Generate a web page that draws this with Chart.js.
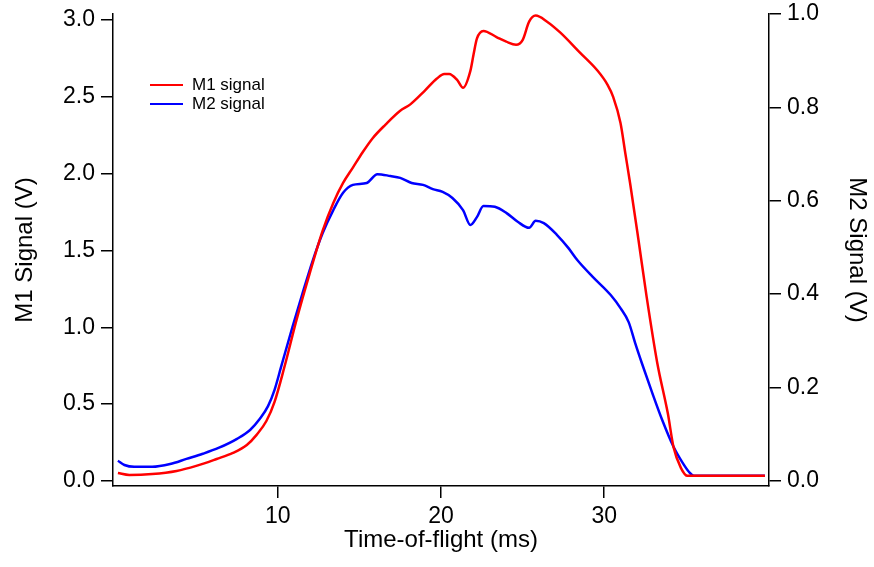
<!DOCTYPE html>
<html>
<head>
<meta charset="utf-8">
<script src="https://cdn.jsdelivr.net/npm/chart.js@4"></script>
<style>
  body { margin: 0; background: #fff; }
  #wrap { position: relative; width: 874px; height: 567px; }
  #legend { position: absolute; left: 150px; top: 75px; font: 17px "Liberation Sans", Arial, sans-serif; color: #000; }
  #legend div { display: flex; align-items: center; height: 19px; }
  #legend span.swatch { display: inline-block; width: 33px; height: 0; border-top: 2.5px solid; margin-right: 9px; }
</style>
</head>
<body>
<div id="wrap">
  <canvas id="myChart" width="874" height="567"></canvas>
  <div id="legend"></div>
</div>
<script>
// time-of-flight (ms) and signals
const m1Time = [0.2, 0.9, 2.3, 3.8, 5.0, 6.25, 7.25, 8.1, 8.7, 9.3, 9.8, 10.4, 11.15, 11.95, 12.75, 13.4, 14.0, 14.6, 15.2, 15.8, 16.6, 17.5, 18.1, 19.0, 19.75, 20.2, 20.5, 21.0, 21.35, 21.8, 22.0, 22.2, 22.6, 23.4, 24.0, 24.6, 25.0, 25.4, 25.8, 26.5, 27.3, 28.5, 29.6, 30.2, 30.55, 31.0, 31.3, 31.6, 32.1, 32.6, 33.25, 33.9, 34.25, 34.7, 35.1, 36.5, 39.85];
const m1Signal = [0.052, 0.039, 0.045, 0.065, 0.098, 0.143, 0.182, 0.234, 0.300, 0.390, 0.515, 0.740, 1.050, 1.350, 1.630, 1.810, 1.940, 2.040, 2.140, 2.230, 2.320, 2.410, 2.450, 2.540, 2.620, 2.650, 2.650, 2.610, 2.560, 2.670, 2.780, 2.880, 2.930, 2.890, 2.860, 2.840, 2.870, 2.990, 3.030, 2.990, 2.920, 2.790, 2.670, 2.580, 2.500, 2.330, 2.130, 1.930, 1.570, 1.200, 0.770, 0.440, 0.220, 0.085, 0.033, 0.033, 0.033];

const m2Time = [0.2, 0.6, 1.2, 2.3, 3.4, 4.4, 5.4, 6.4, 7.5, 8.3, 8.9, 9.4, 9.8, 10.2, 10.9, 11.5, 12.15, 12.75, 13.4, 14.0, 14.6, 15.45, 16.1, 16.9, 17.5, 18.2, 18.9, 19.5, 20.1, 20.7, 21.35, 21.8, 22.2, 22.6, 23.3, 24.0, 24.7, 25.4, 25.8, 26.3, 27.1, 27.8, 28.35, 29.3, 30.4, 31.0, 31.5, 31.9, 32.3, 32.95, 33.55, 34.25, 34.8, 35.2, 35.5, 37.0, 39.85];
const m2Signal = [0.043, 0.034, 0.030, 0.030, 0.036, 0.047, 0.058, 0.071, 0.090, 0.109, 0.133, 0.160, 0.195, 0.244, 0.330, 0.400, 0.473, 0.531, 0.580, 0.617, 0.634, 0.638, 0.657, 0.653, 0.649, 0.638, 0.634, 0.625, 0.619, 0.606, 0.580, 0.548, 0.565, 0.589, 0.587, 0.574, 0.555, 0.542, 0.557, 0.552, 0.527, 0.499, 0.473, 0.437, 0.398, 0.370, 0.340, 0.295, 0.253, 0.188, 0.131, 0.073, 0.039, 0.019, 0.011, 0.011, 0.011];

const xTicks = [10, 20, 30];
const m1Ticks = [0, 0.5, 1.0, 1.5, 2.0, 2.5, 3.0];
const m2Ticks = [0, 0.2, 0.4, 0.6, 0.8, 1.0];

const FONT = "'Liberation Sans', Arial, Helvetica, sans-serif";
const ctx = document.getElementById("myChart").getContext("2d");

function toPoints(xs, ys) {
  return xs.map((x, i) => ({ x: x, y: ys[i] }));
}

// fixed box size, no extra padding for labels that stick out
function fixSize(w, h) {
  return (scale) => {
    if (w) scale.width = w;
    if (h) scale.height = h;
    scale.paddingTop = 0;
    scale.paddingBottom = 0;
    scale.paddingLeft = 0;
    scale.paddingRight = 0;
  };
}

function axisStyle(ticks, digits) {
  return {
    border: { display: true, color: "#000", width: 1.5 },
    grid: { drawOnChartArea: false, drawTicks: true, tickLength: 12, color: "#000", lineWidth: 1.5 },
    ticks: {
      color: "#000",
      padding: 6,
      font: { family: FONT, size: 23 },
      callback: (v) => Number(v).toFixed(digits),
    },
    afterBuildTicks: (scale) => {
      scale.ticks = ticks.map((v) => ({ value: v }));
    },
  };
}

const data = {
  datasets: [
    {
      label: "M1 signal",
      data: toPoints(m1Time, m1Signal),
      borderColor: "#ff0000",
      yAxisID: "y",
    },
    {
      label: "M2 signal",
      data: toPoints(m2Time, m2Signal),
      borderColor: "#0000ff",
      yAxisID: "y2",
    },
  ],
};

const xAxis = axisStyle(xTicks, 0);
const yAxis = axisStyle(m1Ticks, 1);
const y2Axis = axisStyle(m2Ticks, 1);

const config = {
  type: "line",
  data: data,
  options: {
    responsive: false,
    animation: false,
    layout: { padding: { top: 14, left: 0, right: 0, bottom: 0 } },
    elements: {
      point: { radius: 0 },
      line: { borderWidth: 2.5, cubicInterpolationMode: "monotone", fill: false },
    },
    plugins: { legend: { display: false }, tooltip: { enabled: false } },
    scales: {
      x: Object.assign(xAxis, {
        type: "linear",
        position: "bottom",
        min: -0.1,
        max: 40.1,
        ticks: Object.assign(xAxis.ticks, { padding: 5, maxRotation: 0 }),
        title: { display: true, text: "Time-of-flight (ms)", color: "#000", font: { family: FONT, size: 24 }, padding: { top: 0, bottom: 12 } },
        afterFit: fixSize(0, 81),
      }),
      y: Object.assign(yAxis, {
        type: "linear",
        position: "left",
        min: -0.033,
        max: 3.04,
        title: { display: true, text: "M1 Signal (V)", color: "#000", font: { family: FONT, size: 24 }, padding: { top: 11, bottom: 0 } },
        afterFit: fixSize(113, 0),
      }),
      y2: Object.assign(y2Axis, {
        type: "linear",
        position: "right",
        min: -0.011,
        max: 1.0,
        title: { display: true, text: "M2 Signal (V)", color: "#000", font: { family: FONT, size: 24 }, padding: { top: 3, bottom: 0 } },
        afterFit: fixSize(105, 0),
      }),
    },
  },
};

const myChart = new Chart(ctx, config);

// legend inside the plot, built from the datasets
const legend = document.getElementById("legend");
data.datasets.forEach((ds) => {
  const row = document.createElement("div");
  const sw = document.createElement("span");
  sw.className = "swatch";
  sw.style.borderTopColor = ds.borderColor;
  row.appendChild(sw);
  row.appendChild(document.createTextNode(ds.label));
  legend.appendChild(row);
});
</script>
</body>
</html>
